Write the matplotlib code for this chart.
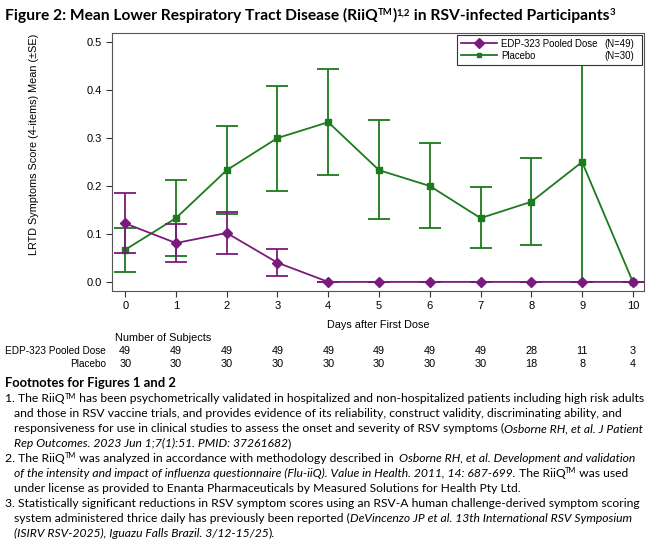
import matplotlib
matplotlib.use("Agg")
import matplotlib.pyplot as plt
import numpy as np

# data
days = [0, 1, 2, 3, 4, 5, 6, 7, 8, 9, 10]
edp_mean = [0.122, 0.081, 0.102, 0.040, 0, 0, 0, 0, 0, 0, 0]
edp_lo = [0.060, 0.042, 0.058, 0.012, 0, 0, 0, 0, 0, 0, 0]
edp_hi = [0.185, 0.121, 0.145, 0.069, 0, 0, 0, 0, 0, 0, 0]
pla_mean = [0.067, 0.133, 0.233, 0.300, 0.333, 0.233, 0.200, 0.133, 0.167, 0.250, 0]
pla_lo = [0.020, 0.053, 0.142, 0.190, 0.222, 0.131, 0.112, 0.070, 0.077, 0.0, 0]
pla_hi = [0.113, 0.212, 0.325, 0.408, 0.443, 0.337, 0.290, 0.197, 0.258, 0.5, 0]
n_edp = [49, 49, 49, 49, 49, 49, 49, 49, 28, 11, 3]
n_pla = [30, 30, 30, 30, 30, 30, 30, 30, 18, 8, 4]
groups = ["EDP-323 Pooled Dose", "Placebo"]
group_n = ["(N=49)", "(N=30)"]

PURPLE = "#7a1a7c"
GREEN = "#1d7a1d"
FONT = "Liberation Sans"
NOTE_FONT = "Lato"

plt.rcParams["font.family"] = FONT

W, H = 650, 540
fig = plt.figure(figsize=(6.5, 5.4), dpi=100)
ax = fig.add_axes([112 / W, 1 - 291 / H, (644 - 112) / W, (291 - 33) / H])
renderer = fig.canvas.get_renderer()


def err(mean, lo, hi):
    m = np.array(mean)
    return [m - np.array(lo), np.array(hi) - m]


ax.errorbar(days, pla_mean, yerr=err(pla_mean, pla_lo, pla_hi), color=GREEN,
            marker="s", ms=4.8, lw=1.3, capsize=8, capthick=1.3, elinewidth=1.3,
            zorder=3)
ax.errorbar(days, edp_mean, yerr=err(edp_mean, edp_lo, edp_hi), color=PURPLE,
            marker="D", ms=5.5, lw=1.3, capsize=8, capthick=1.3, elinewidth=1.3,
            zorder=4)

ax.set_xlim(-0.26, 10.22)
ax.set_ylim(-0.019, 0.519)
ax.set_xticks(days)
ax.set_yticks([0, 0.1, 0.2, 0.3, 0.4, 0.5])
ax.set_yticklabels(["0.0", "0.1", "0.2", "0.3", "0.4", "0.5"])
ax.tick_params(labelsize=8, length=4, color="#333333")
for s in ax.spines.values():
    s.set_color("#555555")
ax.set_ylabel("LRTD Symptoms Score (4-items) Mean (\u00b1SE)", fontsize=7.8)
ax.yaxis.set_label_coords(-0.137, 0.57)
ax.set_xlabel("Days after First Dose", fontsize=7.8, labelpad=6)

# legend stretched to the reference box, N values right aligned by hand
h_edp = plt.Line2D([], [], color=PURPLE, marker="D", ms=5, lw=1.3)
h_pla = plt.Line2D([], [], color=GREEN, marker="s", ms=3.5, lw=1.3)
leg = ax.legend([h_edp, h_pla], groups, loc="upper left", mode="expand",
                bbox_to_anchor=((457 - 112) / 532, 0, (642 - 457) / 532, (291 - 35) / 258),
                fontsize=6.9, frameon=True, fancybox=False, edgecolor="#333333",
                framealpha=1, handlelength=3.8, handletextpad=0.4, borderaxespad=0,
                borderpad=0.4, labelspacing=0.2)
leg.get_frame().set_linewidth(0.8)
fig.canvas.draw()
for t, n in zip(leg.get_texts(), group_n):
    bb = t.get_window_extent(renderer)
    fig.text(634 / W, (bb.y0 + bb.y1) / 2 / H, n, fontsize=6.9, ha="right", va="center",
             zorder=6)

# number of subjects table
fig.text(115 / W, 1 - 338 / H, "Number of Subjects", fontsize=7.8, va="center", ha="left")
for row_y, name, counts in [(351, groups[0], n_edp), (364, groups[1], n_pla)]:
    fig.text(106 / W, 1 - row_y / H, name, fontsize=7.2, va="center", ha="right")
    for d, c in zip(days, counts):
        ax.annotate(str(c), (d, 0), xycoords=("data", "figure fraction"),
                    xytext=(d, 1 - row_y / H), textcoords=("data", "figure fraction"),
                    ha="center", va="center", fontsize=7.8, annotation_clip=False)


def draw_line(x, y, segs, size, weight="normal"):
    # segs: (style, text); style n=normal, i=italic, s=superscript
    for style, s in segs:
        sup = style == "s"
        t = fig.text(x / W, 1 - (y - (0.42 * size if sup else 0)) / H, s,
                     fontsize=size * 0.62 if sup else size, family=NOTE_FONT,
                     fontweight=weight, style="italic" if style == "i" else "normal",
                     va="baseline", ha="left")
        bb = t.get_window_extent(renderer)
        x += bb.width
        if s.endswith(" "):
            x += size * 0.27
    return x


title = [("n", "Figure 2: Mean Lower Respiratory Tract Disease (RiiQ"), ("s", "TM"),
         ("n", ")"), ("s", "1,2"), ("n", " in RSV-infected Participants"), ("s", "3")]
# fit the title to the reference width
probe = fig.text(0, 0, "Figure 2: Mean Lower Respiratory Tract Disease (RiiQTM)1,2 in RSV-infected Participants3",
                 fontsize=12, family=NOTE_FONT, fontweight="bold")
pw = probe.get_window_extent(renderer).width
probe.remove()
draw_line(5, 20, title, 12 * 628 / pw, "bold")

# footnotes, drawn segment by segment so italics can be mixed in
notes = [
    (5, [("n", "1. The RiiQ"), ("s", "TM"), ("n", " has been psychometrically validated in hospitalized and non-hospitalized patients including high risk adults")]),
    (14, [("n", "and those in RSV vaccine trials, and provides evidence of its reliability, construct validity, discriminating ability, and")]),
    (14, [("n", "responsiveness for use in clinical studies to assess the onset and severity of RSV symptoms ("), ("i", "Osborne RH, et al. J Patient")]),
    (14, [("i", "Rep Outcomes. 2023 Jun 1;7(1):51. PMID: 37261682"), ("n", ")")]),
    (5, [("n", "2. The RiiQ"), ("s", "TM"), ("n", " was analyzed in accordance with methodology described in "), ("i", "Osborne RH, et al. Development and validation")]),
    (14, [("i", "of the intensity and impact of influenza questionnaire (Flu-iiQ). Value in Health. 2011, 14: 687-699."), ("n", " The RiiQ"), ("s", "TM"), ("n", " was used")]),
    (14, [("n", "under license as provided to Enanta Pharmaceuticals by Measured Solutions for Health Pty Ltd.")]),
    (5, [("n", "3. Statistically significant reductions in RSV symptom scores using an RSV-A human challenge-derived symptom scoring")]),
    (14, [("n", "system administered thrice daily has previously been reported ("), ("i", "DeVincenzo JP et al. 13th International RSV Symposium")]),
    (14, [("i", "(ISIRV RSV-2025), Iguazu Falls Brazil. 3/12-15/25"), ("n", ").")]),
]

draw_line(5, 387, [("n", "Footnotes for Figures 1 and 2")], 9.4, "bold")
y = 402.5
for x0, segs in notes:
    draw_line(x0, y, segs, 8.75)
    y += 14.9

fig.savefig("out.png", dpi=100)
